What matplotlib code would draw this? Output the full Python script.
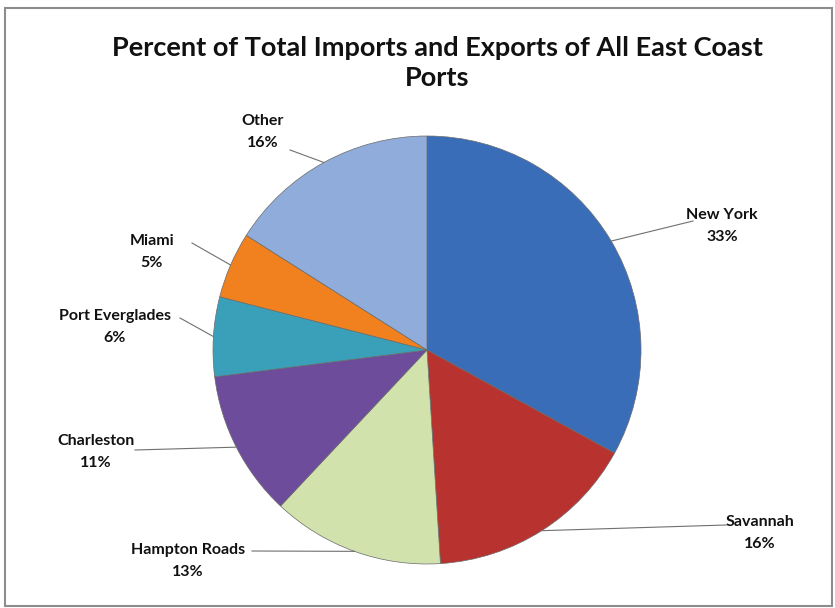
import matplotlib
matplotlib.use("Agg")
import matplotlib.pyplot as plt
import numpy as np
from matplotlib.patches import Rectangle

title = "Percent of Total Imports and Exports of All East Coast\nPorts"
ports = ["New York", "Savannah", "Hampton Roads", "Charleston",
         "Port Everglades", "Miami", "Other"]
shares = [33, 16, 13, 11, 6, 5, 16]
pct_labels = ["33%", "16%", "13%", "11%", "6%", "5%", "16%"]

colors = ["#3A6DB8", "#B8332F", "#D2E2AC", "#6E4C9C", "#3AA0BA", "#F0811E", "#8FACDA"]

W, H = 835, 608
fig = plt.figure(figsize=(W / 100, H / 100), dpi=100)
ax = fig.add_axes([0, 0, 1, 1])

cx, cy, R = 427, H - 350, 214
wedges, _ = ax.pie(shares, colors=colors, startangle=90, counterclock=False,
                   center=(cx, cy), radius=R, frame=True,
                   wedgeprops=dict(linewidth=0.5, edgecolor="#6a6a6a"))
ax.set_xlim(0, W)
ax.set_ylim(0, H)
ax.set_aspect("equal")
ax.axis("off")

# frame
fig.patches.append(Rectangle((5 / W, 2 / H), (W - 8) / W, (H - 10) / H,
                             transform=fig.transFigure, fill=False,
                             edgecolor="#8c8c8c", linewidth=1.5))

font = ["Lato", "DejaVu Sans"]
ax.text(437, H - 63, title, ha="center", va="center", fontsize=19.5,
        fontweight="bold", family=font, linespacing=1.3, color="#111111")

# label text positions (pixel space, y from top) and leader end points
label_pos = [(722, 226), (760, 533), (188, 561), (96, 452),
             (115, 327), (152, 252), (263, 132)]
leader_end = [(693, 221), (726, 525), (252, 551), (135, 450),
              (180, 318), (192, 243), (290, 150)]

for w, name, pct, (tx, ty), (ex, ey) in zip(wedges, ports, pct_labels, label_pos, leader_end):
    mid = np.deg2rad((w.theta1 + w.theta2) / 2)
    sx = cx + R * np.cos(mid)
    sy = cy + R * np.sin(mid)
    ax.plot([sx, ex], [sy, H - ey], color="#707070", linewidth=0.8)
    ax.text(tx, H - ty, f"{name}\n{pct}", ha="center", va="center",
            fontsize=11.5, fontweight="bold", family=font,
            linespacing=1.75, color="#111111")

fig.savefig("out.png", dpi=100)
